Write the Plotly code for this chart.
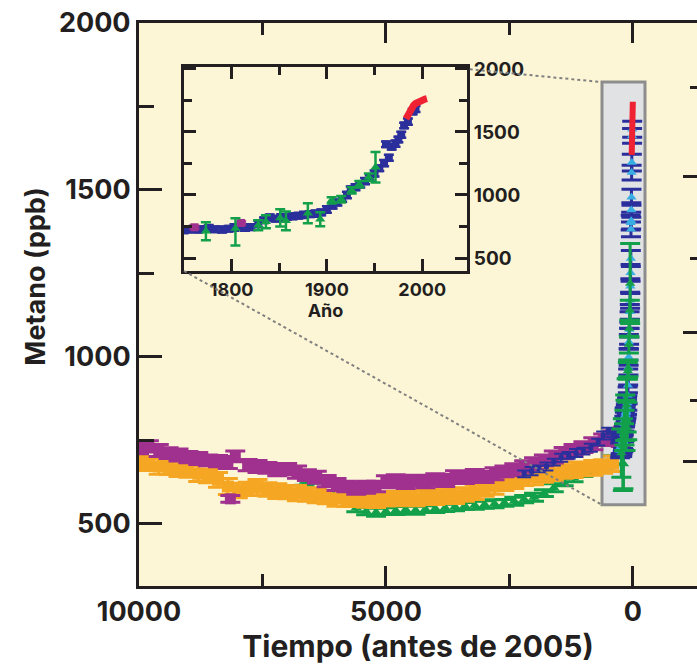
import plotly.graph_objects as go

FONT = "Inter, Liberation Sans, Arial, sans-serif"
INK = "#231f20"
PURPLE = "#a0318f"
ORANGE = "#f5a623"
GREEN = "#13a04b"
BLUE = "#2b2f9c"
LBLUE = "#39aee3"
RED = "#ee2232"
MAIN_BG = "#fdf6d6"
INSET_BG = "#e1e2e4"

# ---------------- main panel data (years before 2005, ppb) ----------------
purple_t = [10000, 9800, 9600, 9400, 9200, 9000, 8800, 8600, 8400, 8200, 8150, 8050,
            7800, 7600, 7400, 7200, 7000, 6800, 6600, 6400, 6200, 6000, 5800, 5600,
            5400, 5200, 5000, 4800, 4600, 4400, 4200, 4000, 3800, 3600, 3400, 3200,
            3000, 2800, 2600, 2400, 2200, 2000, 1800, 1600, 1400, 1200, 1000, 800, 600, 400]
purple_ppb = [728, 732, 720, 712, 706, 700, 696, 690, 688, 684, 575, 702,
              676, 672, 668, 662, 664, 655, 646, 640, 628, 618, 612, 606,
              610, 612, 626, 630, 624, 630, 626, 633, 630, 640, 638, 645,
              641, 650, 657, 662, 672, 680, 690, 700, 712, 720, 730, 740, 752, 760]
purple_err = [18, 17, 18, 16, 18, 17, 18, 16, 17, 18, 10, 16,
              17, 18, 16, 18, 17, 18, 16, 18, 17, 18, 16, 17,
              18, 16, 18, 17, 18, 16, 18, 17, 18, 19, 17, 18,
              17, 18, 16, 18, 17, 18, 16, 18, 17, 18, 16, 18, 17, 18]

orange_t = [10000, 9800, 9600, 9400, 9200, 9000, 8800, 8600, 8400, 8200, 8000, 7800,
            7600, 7400, 7200, 7000, 6800, 6600, 6400, 6200, 6000, 5800, 5600, 5400,
            5200, 5000, 4800, 4600, 4400, 4200, 4000, 3800, 3600, 3400, 3200, 3000,
            2800, 2600, 2400, 2200, 2000, 1800, 1600, 1400, 1200, 1000, 800, 600, 400, 300, 200]
orange_ppb = [685, 680, 672, 668, 664, 660, 650, 643, 632, 612, 600, 605,
              610, 603, 598, 595, 592, 588, 585, 580, 576, 572, 574, 570,
              572, 574, 576, 578, 577, 580, 580, 582, 584, 588, 595, 603,
              612, 620, 628, 635, 640, 645, 652, 657, 662, 664, 668, 672, 680, 745, 762]
orange_err = [22, 20, 23, 20, 22, 20, 23, 20, 22, 24, 22, 20,
              23, 20, 22, 20, 23, 20, 22, 20, 23, 20, 22, 20,
              23, 20, 22, 20, 23, 20, 22, 20, 23, 20, 22, 20,
              23, 20, 22, 20, 23, 20, 22, 20, 23, 20, 22, 20, 23, 8, 8]

green_t = [6650, 6500, 5930, 5600, 5400, 5200, 5000, 4800, 4600, 4400, 4200, 4000,
           3800, 3600, 3400, 3200, 3000, 2800, 2600, 2400, 2200, 2000, 1800, 1600,
           1400, 1200, 1000, 800, 600, 400, 190]
green_ppb = [628, 632, 606, 548, 538, 535, 538, 540, 543, 541, 544, 546,
             548, 551, 554, 556, 558, 560, 563, 568, 574, 580, 592, 608,
             625, 638, 652, 664, 678, 692, 680]
green_err = [12, 10, 10, 12, 11, 12, 10, 12, 11, 12, 10, 12,
             11, 12, 10, 12, 11, 12, 10, 12, 11, 12, 10, 12,
             11, 12, 10, 12, 11, 12, 75]

blue_t = [2200, 2050, 1900, 1750, 1600, 1450, 1300, 1150, 1000, 850, 700, 600, 500, 400, 330]
blue_ppb = [650, 658, 665, 672, 685, 698, 705, 712, 718, 728, 745, 765, 778, 772, 765]
blue_err = [10, 12, 10, 12, 10, 12, 10, 12, 10, 12, 10, 12, 10, 12, 10]

# ---------------- inset data (calendar year, ppb) ----------------
ld_year = [1750, 1755, 1760, 1765, 1770, 1776, 1782, 1790, 1797, 1803, 1808, 1814,
           1820, 1828, 1834, 1840, 1846, 1852, 1858, 1864, 1870, 1876, 1882, 1888,
           1894, 1900, 1906, 1911, 1916, 1921, 1925, 1930, 1935, 1940, 1945, 1950,
           1955, 1960, 1962, 1965, 1968, 1972, 1975, 1978, 1981, 1985, 1990, 1993]
ld_ppb = [720, 728, 732, 726, 730, 736, 728, 726, 732, 742, 748, 740,
          745, 770, 800, 822, 812, 822, 826, 832, 836, 842, 848, 852,
          862, 885, 915, 940, 968, 1000, 1045, 1062, 1082, 1110, 1135, 1170,
          1212, 1252, 1402, 1295, 1382, 1408, 1440, 1478, 1552, 1582, 1662, 1682]
ld_err = [22, 25, 22, 24, 22, 25, 22, 24, 22, 25, 22, 24,
          22, 25, 22, 24, 22, 25, 22, 24, 22, 25, 22, 24,
          22, 25, 22, 24, 22, 25, 22, 24, 22, 25, 22, 24,
          22, 25, 22, 24, 22, 25, 22, 24, 22, 25, 22, 24]

gr_year = [1773, 1804, 1828, 1836, 1851, 1857, 1880, 1893, 1905, 1915, 1926, 1934, 1944, 1951]
gr_ppb = [712, 735, 760, 788, 818, 795, 855, 808, 958, 966, 1037, 1085, 1140, 1220]
gr_up = [72, 80, 40, 52, 68, 75, 80, 56, 25, 25, 25, 25, 30, 120]
gr_dn = [72, 135, 40, 52, 68, 75, 80, 56, 25, 25, 25, 25, 30, 120]

pu_year = [1761, 1810]
pu_ppb = [744, 778]
pu_err = [12, 12]

atm_year = [1983, 1985, 1987, 1989, 1991, 1993, 1995, 1997, 1999, 2001, 2003, 2005]
atm_ppb = [1605, 1640, 1668, 1692, 1712, 1725, 1735, 1743, 1750, 1756, 1760, 1764]

# axis ranges / tick values
X_RANGE = [10000, -1300]
Y_RANGE = [314, 2000]
X_TICKS = [10000, 5000, 0]
X_TICKTEXT = ["10000", "5000", "0"]
X_MINOR = [7500, 2500]
Y_TICKS = [500, 1000, 1500, 2000]
Y_MINOR = [750, 1250, 1750]
RF_MAJOR = [686, 1072, 1539]
RF_MINOR = [871, 1296, 1808]
INSET_X_RANGE = [1750, 2047]
INSET_Y_RANGE = [397, 2015]
INSET_X_TICKS = [1800, 1900, 2000]
INSET_X_MINOR = [1850, 1950]
INSET_DOM_X = [0.0806, 0.5878]
INSET_DOM_Y = [0.5595, 0.9218]
BOX_T = [624, -247]
BOX_PPB = [557, 1823]

REF_YEAR = 2005


def to_bp(years):
    return [REF_YEAR - y for y in years]


fig = go.Figure()


def err_trace(x, y, err, color, symbol, size, cap, xa="x", ya="y", errminus=None, mcolor=None, thick=3):
    ed = dict(type="data", array=err, color=color, thickness=thick, width=cap, visible=True)
    if errminus is not None:
        ed["symmetric"] = False
        ed["arrayminus"] = errminus
    return go.Scatter(x=x, y=y, mode="markers", xaxis=xa, yaxis=ya,
                      marker=dict(symbol=symbol, size=size, color=mcolor or color, line=dict(width=0)),
                      error_y=ed, showlegend=False, hoverinfo="skip")


# main panel
fig.add_trace(err_trace(green_t, green_ppb, green_err, GREEN, "triangle-up", 10, 10))
fig.add_trace(err_trace(orange_t, orange_ppb, orange_err, ORANGE, "square", 12, 10))
fig.add_trace(err_trace(purple_t, purple_ppb, purple_err, PURPLE, "square", 11, 10))
fig.add_trace(err_trace(blue_t, blue_ppb, blue_err, BLUE, "square", 5, 7, thick=2))
# recent period squeezed in the grey box
fig.add_trace(err_trace(to_bp(pu_year), pu_ppb, pu_err, PURPLE, "square", 9, 10))
fig.add_trace(err_trace(to_bp(ld_year), ld_ppb, ld_err, BLUE, "triangle-up", 9, 10, mcolor=LBLUE))
fig.add_trace(err_trace(to_bp(gr_year), gr_ppb, gr_up, GREEN, "triangle-up", 9, 10, errminus=gr_dn))
fig.add_trace(go.Scatter(x=to_bp(atm_year), y=atm_ppb, mode="lines", line=dict(color=RED, width=6),
                         showlegend=False, hoverinfo="skip"))

# inset
fig.add_trace(err_trace(ld_year, ld_ppb, ld_err, BLUE, "square", 8, 5, "x2", "y2", thick=2.5))
fig.add_trace(err_trace(pu_year, pu_ppb, pu_err, PURPLE, "square", 8, 5, "x2", "y2", thick=2.5))
fig.add_trace(err_trace(gr_year, gr_ppb, gr_up, GREEN, "triangle-up", 9, 5, "x2", "y2",
                        errminus=gr_dn, thick=2.5))
fig.add_trace(go.Scatter(x=atm_year, y=atm_ppb, mode="lines", xaxis="x2", yaxis="y2",
                         line=dict(color=RED, width=7), showlegend=False, hoverinfo="skip"))

# dummy for right-hand tick axis
fig.add_trace(go.Scatter(x=[None], y=[None], xaxis="x", yaxis="y3", showlegend=False, hoverinfo="skip"))

bold = dict(family=FONT, color=INK, weight="bold")

axis_common = dict(showgrid=False, zeroline=False, showline=True, linecolor=INK, linewidth=3,
                   ticks="inside", tickcolor=INK, tickwidth=3, automargin=False)

fig.update_layout(
    width=697, height=666,
    margin=dict(l=139, r=0, t=23, b=80),
    paper_bgcolor="white",
    plot_bgcolor=MAIN_BG,
    showlegend=False,
    xaxis=dict(**axis_common, range=X_RANGE, tickmode="array", tickvals=X_TICKS,
               ticktext=X_TICKTEXT, ticklen=20, mirror="ticks",
               minor=dict(tickmode="array", tickvals=X_MINOR, ticks="inside", ticklen=12,
                          tickwidth=3, tickcolor=INK),
               tickfont=dict(size=27, **bold),
               title=dict(text="Tiempo (antes de 2005)", font=dict(size=30, **bold), standoff=5)),
    yaxis=dict(**axis_common, range=Y_RANGE, tickmode="array", tickvals=Y_TICKS,
               ticklen=23,
               minor=dict(tickmode="array", tickvals=Y_MINOR, ticks="inside", ticklen=15,
                          tickwidth=3, tickcolor=INK),
               tickfont=dict(size=27, **bold)),
    yaxis3=dict(overlaying="y", side="right", anchor="x", range=Y_RANGE, showgrid=False,
                zeroline=False, showline=False, showticklabels=False, automargin=False,
                tickmode="array", tickvals=RF_MAJOR, ticks="inside", ticklen=14,
                tickwidth=3, tickcolor=INK,
                minor=dict(tickmode="array", tickvals=RF_MINOR, ticks="inside", ticklen=7,
                           tickwidth=3, tickcolor=INK)),
    xaxis2=dict(**axis_common, domain=INSET_DOM_X, anchor="y2", range=INSET_X_RANGE,
                tickmode="array", tickvals=INSET_X_TICKS, ticklen=12, mirror="ticks",
                minor=dict(tickmode="array", tickvals=INSET_X_MINOR, ticks="inside", ticklen=8,
                           tickwidth=3, tickcolor=INK),
                tickfont=dict(size=18, **bold),
                title=dict(text="Año", font=dict(size=18, **bold), standoff=0)),
    yaxis2=dict(**axis_common, domain=INSET_DOM_Y, anchor="x2", side="right", range=INSET_Y_RANGE,
                tickmode="array", tickvals=Y_TICKS, ticklen=12, mirror="ticks",
                minor=dict(tickmode="array", tickvals=Y_MINOR, ticks="inside", ticklen=8,
                           tickwidth=3, tickcolor=INK),
                tickfont=dict(size=19, **bold)),
)


def px(t):
    return (X_RANGE[0] - t) / (X_RANGE[0] - X_RANGE[1])


def py(v):
    return (v - Y_RANGE[0]) / (Y_RANGE[1] - Y_RANGE[0])


fig.add_shape(type="rect", xref="x2 domain", yref="y2 domain", x0=0, x1=1, y0=0, y1=1,
              fillcolor=INSET_BG, line=dict(width=0), layer="below")
fig.add_shape(type="rect", xref="x", yref="y", x0=BOX_T[0], x1=BOX_T[1], y0=BOX_PPB[0], y1=BOX_PPB[1],
              fillcolor=INSET_BG, line=dict(color="#8d8d8d", width=3), layer="below")
fig.add_shape(type="line", xref="paper", yref="paper",
              x0=INSET_DOM_X[1] + 0.005, y0=INSET_DOM_Y[1] - 0.004,
              x1=px(BOX_T[0]), y1=py(BOX_PPB[1]),
              line=dict(color="#808080", width=2, dash="dot"))
fig.add_shape(type="line", xref="paper", yref="paper",
              x0=INSET_DOM_X[0], y0=INSET_DOM_Y[0],
              x1=px(BOX_T[0]), y1=py(BOX_PPB[0]),
              line=dict(color="#808080", width=2, dash="dot"))

fig.add_annotation(text="Metano (ppb)", xref="paper", yref="paper", x=-0.185, y=0.549,
                   textangle=-90, showarrow=False, xanchor="center", yanchor="middle",
                   font=dict(size=27, **bold))

fig.write_html("out.html", config={"displayModeBar": False},
               post_script="document.body.style.margin='0';document.body.style.overflow='hidden';")
